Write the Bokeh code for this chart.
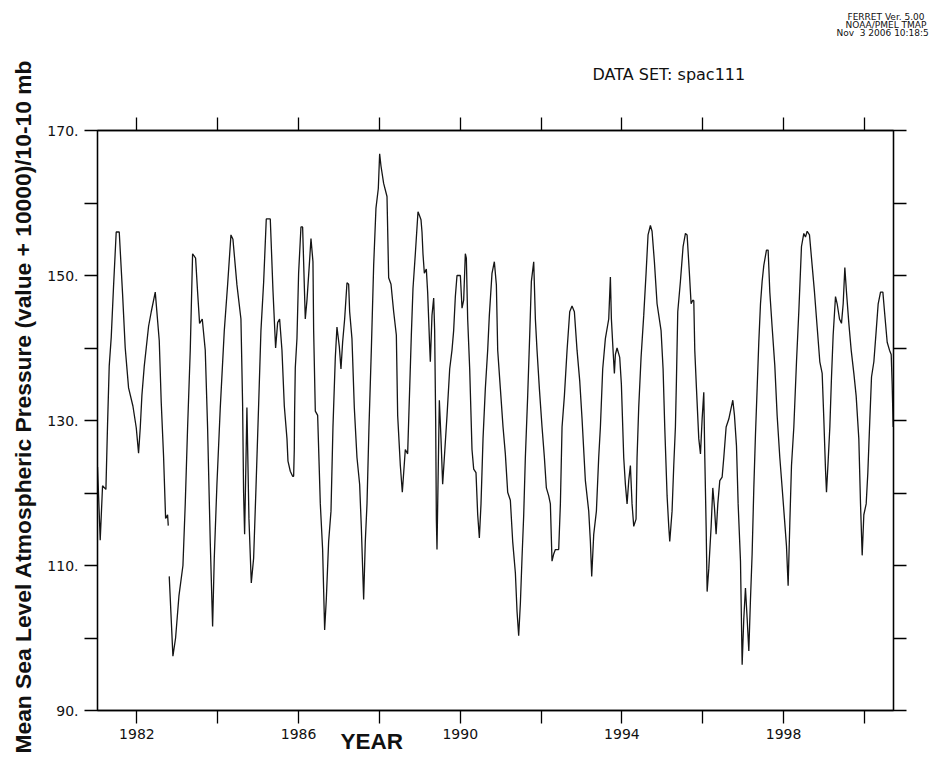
import math
import numpy as np
from bokeh.plotting import figure
from bokeh.models import Range1d, LinearAxis, FixedTicker, Title
from bokeh.embed import file_html
from bokeh.resources import INLINE

# ---- data (decimal year, value) ----
t = [1981.026, 1981.092, 1981.150, 1981.233, 1981.274, 1981.315, 1981.365, 1981.422, 1981.488, 1981.563,
     1981.645, 1981.711, 1981.794, 1981.901, 1981.984, 1982.041, 1982.083, 1982.124, 1982.182, 1982.289,
     1982.355, 1982.454, 1982.553, 1982.602, 1982.660, 1982.710, 1982.759, 1982.776, 1982.788,
     1982.800, 1982.891, 1982.957, 1983.040, 1983.139, 1983.196, 1983.254, 1983.320, 1983.378, 1983.452,
     1983.502, 1983.551, 1983.617, 1983.691, 1983.749, 1983.815, 1983.873, 1983.914, 1983.980, 1984.063,
     1984.162, 1984.244, 1984.327, 1984.376, 1984.475, 1984.574, 1984.615, 1984.640, 1984.665, 1984.722,
     1984.772, 1984.830, 1984.888, 1984.945, 1985.011, 1985.069, 1985.135, 1985.201, 1985.300, 1985.366,
     1985.432, 1985.482, 1985.531, 1985.589, 1985.647, 1985.713, 1985.738, 1985.795, 1985.853, 1985.878,
     1985.894, 1985.902, 1985.919, 1985.960, 1986.001, 1986.059, 1986.100, 1986.125, 1986.166, 1986.208,
     1986.265, 1986.307, 1986.356, 1986.373, 1986.414, 1986.472, 1986.538, 1986.595, 1986.645, 1986.686,
     1986.744, 1986.802, 1986.851, 1986.909, 1986.950, 1987.008, 1987.049, 1987.090, 1987.140, 1987.198,
     1987.239, 1987.264, 1987.321, 1987.379, 1987.445, 1987.511, 1987.552, 1987.610, 1987.651, 1987.693,
     1987.742, 1987.800, 1987.858, 1987.915, 1987.973, 1988.006, 1988.039, 1988.105, 1988.188, 1988.229,
     1988.287, 1988.353, 1988.419, 1988.452, 1988.518, 1988.567, 1988.641, 1988.699, 1988.749, 1988.790,
     1988.831, 1988.889, 1988.955, 1988.996, 1989.029, 1989.054, 1989.078, 1989.112, 1989.161, 1989.194,
     1989.219, 1989.244, 1989.260, 1989.301, 1989.343, 1989.367, 1989.392, 1989.409, 1989.425, 1989.450,
     1989.483, 1989.524, 1989.565, 1989.607, 1989.673, 1989.739, 1989.796, 1989.837, 1989.879, 1989.920,
     1990.003, 1990.044, 1990.085, 1990.126, 1990.151, 1990.184, 1990.234, 1990.291, 1990.333, 1990.390,
     1990.432, 1990.473, 1990.514, 1990.564, 1990.621, 1990.679, 1990.720, 1990.786, 1990.844, 1990.894,
     1990.927, 1990.993, 1991.059, 1991.116, 1991.174, 1991.240, 1991.298, 1991.364, 1991.405, 1991.446,
     1991.488, 1991.529, 1991.570, 1991.611, 1991.669, 1991.719, 1991.760, 1991.818, 1991.859, 1991.900,
     1991.958, 1992.024, 1992.082, 1992.131, 1992.189, 1992.230, 1992.271, 1992.313, 1992.354, 1992.436,
     1992.478, 1992.519, 1992.577, 1992.643, 1992.709, 1992.766, 1992.824, 1992.890, 1992.956, 1993.014,
     1993.096, 1993.179, 1993.220, 1993.253, 1993.303, 1993.369, 1993.426, 1993.468, 1993.525, 1993.591,
     1993.674, 1993.715, 1993.740, 1993.781, 1993.814, 1993.839, 1993.880, 1993.946, 1993.987, 1994.045,
     1994.086, 1994.128, 1994.169, 1994.210, 1994.251, 1994.293, 1994.350, 1994.375, 1994.416, 1994.474,
     1994.540, 1994.598, 1994.647, 1994.705, 1994.746, 1994.804, 1994.870, 1994.969, 1995.019, 1995.060,
     1995.118, 1995.159, 1995.184, 1995.241, 1995.283, 1995.324, 1995.349, 1995.382, 1995.448, 1995.514,
     1995.572, 1995.613, 1995.670, 1995.712, 1995.753, 1995.779, 1995.803, 1995.845, 1995.902, 1995.944,
     1995.985, 1996.026, 1996.051, 1996.084, 1996.109, 1996.150, 1996.208, 1996.249, 1996.290, 1996.331,
     1996.373, 1996.422, 1996.480, 1996.521, 1996.579, 1996.645, 1996.686, 1996.744, 1996.785, 1996.835,
     1996.876, 1996.934, 1996.975, 1997.016, 1997.057, 1997.099, 1997.140, 1997.181, 1997.222, 1997.264,
     1997.305, 1997.346, 1997.387, 1997.429, 1997.470, 1997.511, 1997.577, 1997.618, 1997.660, 1997.717,
     1997.783, 1997.841, 1997.907, 1997.965, 1998.023, 1998.072, 1998.113, 1998.155, 1998.196, 1998.254,
     1998.320, 1998.377, 1998.443, 1998.501, 1998.542, 1998.584, 1998.641, 1998.707, 1998.765, 1998.831,
     1998.897, 1998.955, 1998.996, 1999.037, 1999.062, 1999.103, 1999.145, 1999.186, 1999.227, 1999.285,
     1999.326, 1999.384, 1999.433, 1999.475, 1999.516, 1999.557, 1999.615, 1999.673, 1999.739, 1999.796,
     1999.862, 1999.904, 1999.945, 1999.986, 2000.044, 2000.085, 2000.135, 2000.176, 2000.234, 2000.292,
     2000.341, 2000.399, 2000.457, 2000.498, 2000.564, 2000.621, 2000.663, 2000.687, 2000.712]

v = [123.6, 113.5, 121.0, 120.5, 129.5, 137.5, 141.5, 148.5, 156.0, 156.0,
     147.5, 140.0, 134.5, 132.0, 129.0, 125.5, 129.0, 133.5, 137.5, 143.0,
     145.0, 147.7, 141.0, 132.5, 125.0, 116.5, 117.0, 115.5, None,
     108.5, 97.5, 100.0, 105.8, 110.0, 118.5, 129.0, 139.7, 153.0, 152.4,
     147.7, 143.4, 144.0, 139.7, 129.0, 113.2, 101.6, 111.0, 121.2, 131.8,
     142.4, 148.7, 155.6, 155.0, 148.7, 144.0, 132.3, 120.0, 114.3, 131.8,
     116.5, 107.6, 111.0, 120.5, 132.0, 142.4, 149.0, 157.8, 157.8, 148.0,
     140.0, 143.5, 144.0, 139.7, 132.0, 127.5, 124.4, 123.0, 122.3, 122.3,
     126.0, 131.3, 137.3, 141.3, 150.3, 156.7, 156.7, 151.9, 144.0, 146.6,
     151.4, 155.1, 151.9, 142.4, 131.3, 130.7, 118.5, 112.2, 101.1, 105.3,
     113.3, 117.5, 129.1, 138.7, 142.9, 140.2, 137.1, 140.8, 144.0, 149.0,
     148.8, 145.0, 141.3, 131.8, 124.9, 121.2, 115.4, 105.3, 113.3, 118.5,
     129.1, 139.7, 151.4, 159.3, 162.0, 166.8, 165.1, 162.7, 160.9, 149.7,
     148.8, 145.0, 141.8, 130.7, 123.8, 120.1, 126.0, 125.4, 134.4, 141.8,
     148.2, 153.0, 158.8, 158.2, 157.7, 156.0, 153.0, 150.3, 150.9, 147.7,
     144.0, 140.2, 138.1, 144.5, 146.9, 142.4, 130.2, 116.4, 112.2, 121.2,
     132.8, 127.5, 121.2, 124.9, 130.7, 137.1, 139.7, 142.4, 147.1, 150.0,
     150.0, 145.5, 146.6, 153.0, 152.4, 144.0, 137.1, 126.0, 123.3, 122.8,
     117.0, 113.8, 118.5, 127.5, 134.4, 139.7, 144.5, 150.3, 151.9, 148.7,
     139.7, 134.4, 129.1, 125.4, 120.1, 119.0, 113.3, 109.0, 103.7, 100.3,
     104.8, 111.1, 116.9, 124.9, 133.4, 141.8, 149.2, 151.9, 144.0, 139.7,
     134.4, 129.1, 124.9, 120.7, 119.6, 118.5, 110.6, 111.6, 112.2, 112.2,
     118.5, 129.1, 133.4, 139.7, 145.0, 145.8, 145.0, 139.7, 135.5, 130.2,
     121.7, 117.5, 113.3, 108.5, 114.3, 117.5, 124.9, 129.1, 137.1, 141.3,
     144.0, 149.8, 144.0, 139.7, 136.5, 139.1, 140.0, 138.7, 135.0, 124.9,
     121.2, 118.5, 121.7, 123.8, 118.5, 115.4, 116.4, 124.9, 131.8, 138.7,
     144.5, 150.3, 155.6, 156.9, 156.1, 151.9, 146.1, 142.4, 137.1, 129.1,
     119.6, 115.4, 113.3, 117.5, 123.8, 129.1, 135.5, 145.0, 149.2, 154.0,
     155.8, 155.6, 150.3, 146.1, 146.6, 146.5, 139.7, 134.4, 127.5, 125.4,
     130.2, 133.9, 124.9, 115.4, 106.4, 109.6, 115.4, 120.7, 118.0, 114.3,
     118.5, 121.7, 122.2, 124.9, 129.1, 130.2, 131.3, 132.8, 130.7, 126.5,
     118.5, 110.6, 96.3, 102.7, 106.9, 102.7, 98.2, 105.3, 111.6, 120.7,
     128.1, 134.4, 140.8, 146.1, 149.2, 151.4, 153.5, 153.5, 147.7, 142.9,
     137.6, 130.7, 124.9, 120.7, 116.4, 112.7, 107.2, 115.9, 123.8, 129.1,
     138.1, 145.0, 154.0, 155.8, 155.3, 156.1, 155.6, 151.4, 147.7, 142.9,
     138.1, 136.5, 130.2, 123.3, 120.1, 124.4, 129.1, 136.0, 141.8, 147.1,
     146.1, 144.0, 143.4, 146.1, 151.1, 147.7, 143.4, 139.7, 136.5, 133.4,
     127.5, 118.5, 111.4, 117.0, 118.5, 122.8, 130.2, 136.0, 138.1, 142.4,
     146.1, 147.7, 147.7, 145.0, 140.8, 139.7, 139.1, 135.0, 129.1]

x_ticks = [1982, 1984, 1986, 1988, 1990, 1992, 1994, 1996, 1998, 2000]
x_labels = {1982: "1982", 1986: "1986", 1990: "1990", 1994: "1994", 1998: "1998"}
y_ticks = [90, 100, 110, 120, 130, 140, 150, 160, 170]
y_labels = {90: "90.", 110: "110.", 130: "130.", 150: "150.", 170: "170."}

title_text = "DATA SET: spac111"
stamp = ["FERRET Ver. 5.00", "NOAA/PMEL TMAP", "Nov\u00a0\u00a03 2006 10:18:5"]
x_title = "YEAR"
y_title = "Mean Sea Level Atmospheric Pressure (value + 10000)/10-10 mb"

vals = np.array([np.nan if a is None else a for a in v], dtype=float)
times = np.array(t, dtype=float)

p = figure(width=940, height=757, output_backend="svg", toolbar_location=None,
           title=None,
           x_range=Range1d(1981.025, 2000.72), y_range=Range1d(90, 170),
           min_border_left=97, min_border_right=47, min_border_top=130, min_border_bottom=47)
p.grid.visible = False
p.outline_line_color = "black"
p.outline_line_width = 1.3
p.background_fill_color = "white"
p.border_fill_color = "white"

p.line(times, vals, line_color="#151515", line_width=1.3)

TICK_FONT = "DejaVu Sans"

def style_axis(ax, ticks, labels, show):
    ax.ticker = FixedTicker(ticks=ticks)
    ax.major_label_overrides = {k: (labels.get(k, "") if show else "") for k in ticks}
    ax.major_tick_out = 13
    ax.major_tick_in = 0
    ax.minor_tick_out = 0
    ax.minor_tick_in = 0
    ax.axis_line_color = "black"
    ax.axis_line_width = 1.3
    ax.major_tick_line_color = "black"
    ax.major_tick_line_width = 1.3
    ax.major_label_text_font = TICK_FONT
    ax.major_label_text_font_size = "14px"
    ax.major_label_text_color = "#111111"

xa = p.xaxis[0]
style_axis(xa, x_ticks, x_labels, True)
xa.major_label_standoff = 5
ya = p.yaxis[0]
style_axis(ya, y_ticks, y_labels, True)
ya.major_label_standoff = 6
ya.major_label_orientation = "horizontal"

top = LinearAxis()
style_axis(top, x_ticks, x_labels, False)
top.major_label_text_font_size = "0px"
top.major_label_standoff = 0
right = LinearAxis()
style_axis(right, y_ticks, y_labels, False)
right.major_label_text_font_size = "0px"
right.major_label_standoff = 0

def mk_title(text, size, bold=False, align="left", offset=0, font=TICK_FONT,
             standoff=None, valign="bottom"):
    tt = Title(text=text, align=align, offset=offset, text_font=font,
               text_font_size=size, text_font_style="bold" if bold else "normal",
               text_color="#111111", vertical_align=valign)
    if standoff is not None:
        try:
            tt.standoff = standoff
        except AttributeError:
            pass
    return tt

t_data = mk_title(title_text, "16px", align="left", offset=495, standoff=64, valign="top")
t_s3 = mk_title(stamp[2], "9px", align="left", offset=739, standoff=-10)
t_s2 = mk_title(stamp[1], "9px", align="left", offset=748, standoff=2)
t_s1 = mk_title(stamp[0], "9px", align="left", offset=750, standoff=-10)
t_year = mk_title(x_title, "22.5px", bold=True, align="left", offset=243,
                  font="Liberation Sans", standoff=-30, valign="middle")
t_ylab = mk_title(y_title, "22.8px", bold=True, align="left", offset=-43,
                  font="Liberation Sans", standoff=16, valign="middle")

p.above = [top, t_data, t_s3, t_s2, t_s1]
p.right = [right]
p.below = [xa, t_year]
p.left = [ya, t_ylab]

open("out.html", "w").write(file_html(p, INLINE))
